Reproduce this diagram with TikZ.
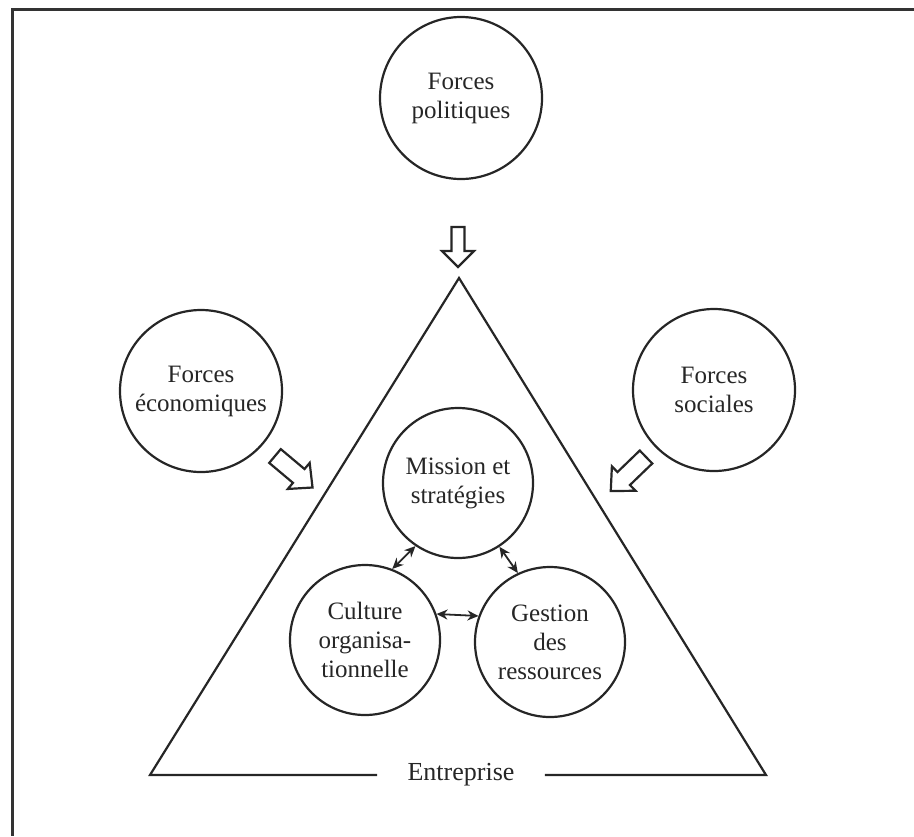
\documentclass[tikz,border=0pt]{standalone}
\usepackage{fontspec}
\setmainfont{Liberation Serif}
\usetikzlibrary{arrows.meta}
\begin{document}
\begin{tikzpicture}[x=0.5pt,y=-0.5pt,
  ink/.style={draw=black!85, line width=1.1pt},
  force/.style={ink, circle, minimum size=81pt, inner sep=0pt, align=center,
    text=black!85, font=\fontsize{12.5}{14.5}\selectfont},
  core/.style={ink, circle, minimum size=75pt, inner sep=0pt, align=center,
    text=black!85, font=\fontsize{12.5}{14.5}\selectfont},
  link/.style={draw=black!85, line width=0.9pt, {Stealth[length=5.5pt,width=5pt]}-{Stealth[length=5.5pt,width=5pt]}},
  shortarrow/.pic={\draw[ink, line join=miter] (0,-6.5) -- (24,-6.5) -- (24,-16) -- (40,0) -- (24,16) -- (24,6.5) -- (0,6.5) -- cycle;},
  longarrow/.pic={\draw[ink, line join=miter] (0,-9) -- (31,-9) -- (31,-17) -- (49,0) -- (31,17) -- (31,9) -- (0,9) -- cycle;}
]
\useasboundingbox (0,0) rectangle (914,836);

% outer frame (top and left rules)
\draw[black!80, line width=1.3pt] (11,9.5) -- (914,9.5);
\draw[black!80, line width=1.3pt] (12.5,8) -- (12.5,836);

% external forces
\node[force] (pol) at (461,98) {Forces\\politiques};
\node[force] (eco) at (201,391) {Forces\\économiques};
\node[force] (soc) at (714,390) {Forces\\sociales};

% the firm
\coordinate (apex) at (459,278);
\coordinate (bl) at (150,775);
\coordinate (br) at (766,775);
\node[text=black!85, font=\fontsize{13}{15}\selectfont, inner xsep=15pt, inner ysep=0pt] (ent) at (461,775) {Entreprise};
\draw[ink, line join=miter] (ent.west) -- (bl) -- (apex) -- (br) -- (ent.east);

% internal components
\node[core] (mis) at (458,483) {Mission et\\stratégies};
\node[core] (cul) at (365,640) {Culture\\organisa-\\tionnelle};
\node[core] (ges) at (550,642) {Gestion\\des\\ressources};

\draw[link] (mis.236) -- (cul.69);
\draw[link] (mis.303) -- (ges.115);
\draw[link] (cul.20) -- (ges.160);

% pressure of the forces on the firm
\pic[rotate=-90] at (458,227) {shortarrow};
\pic[rotate=-40] at (275,456) {longarrow};
\pic[rotate=-136] at (646,457) {longarrow};
\end{tikzpicture}
\end{document}
